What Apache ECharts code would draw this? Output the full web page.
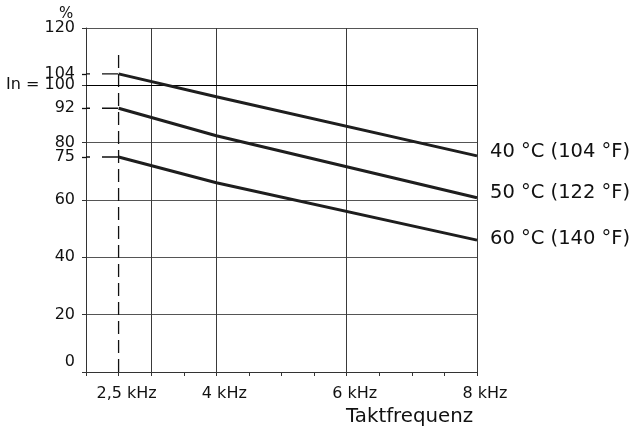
<!DOCTYPE html>
<html>
<head>
<meta charset="utf-8">
<script src="https://cdn.jsdelivr.net/npm/echarts@6/dist/echarts.min.js"></script>
<style>html,body{margin:0;padding:0;background:#fff}#c{width:637px;height:428px}</style>
</head>
<body>
<div id="c"></div>
<script>
// --- data ---
var freqKHz = [2.5, 4, 8];
var curve40 = [104, 96, 75.4];
var curve50 = [92, 82.4, 60.8];
var curve60 = [75, 66, 46];
var seriesNames = ['40 °C (104 °F)', '50 °C (122 °F)', '60 °C (140 °F)'];
var startValues = [104, 92, 75];
var xTickLabels = [2.5, 4, 6, 8];
var xGridValues = [3, 4, 6, 8];
var nominalValue = 100;
var xAxisTitle = 'Taktfrequenz';
var yAxisTitle = '%';

var FONT = 'DejaVu Sans';
var TXT = '#111';
var chart = echarts.init(document.getElementById('c'), null, {renderer: 'canvas'});

function pairs(xs, ys) { return xs.map(function (x, i) { return [x, ys[i]]; }); }

var curves = [curve40, curve50, curve60];
var labelOffsets = [[0, -4], [0, -5], [0, -1]];
var series = curves.map(function (c, i) {
  return {
    name: seriesNames[i], type: 'line', data: pairs(freqKHz, c),
    symbol: 'none', z: 5,
    lineStyle: {color: '#1e1e1e', width: 3},
    endLabel: {show: true, formatter: seriesNames[i], distance: 13, offset: labelOffsets[i],
      fontFamily: FONT, fontSize: 19.5, color: TXT},
    markLine: i === 0 ? {silent: true, symbol: 'none', label: {show: false},
      lineStyle: {color: '#000', width: 1, type: 'solid'},
      data: [{yAxis: nominalValue}]} : undefined
  };
});
// dashed guide lines from the y axis to the 2.5 kHz start point
startValues.forEach(function (v) {
  series.push({type: 'line', data: [[2, v], [freqKHz[0], v]], symbol: 'none', silent: true, z: 4,
    lineStyle: {color: '#111', width: 1.3, type: [4, 12, 16]}});
});
// vertical dashed line at 2.5 kHz
series.push({type: 'line', data: [[freqKHz[0], 0], [freqKHz[0], 111]], symbol: 'none', silent: true, z: 4,
  lineStyle: {color: '#111', width: 1.3, type: [13, 6]}});

chart.setOption({
  animation: false,
  backgroundColor: '#fff',
  title: [
    {text: xAxisTitle, left: 346, top: 407, padding: 0,
      textStyle: {fontFamily: FONT, fontSize: 19.8, fontWeight: 'normal', color: TXT}},
    {text: yAxisTitle, left: 59, top: 7, padding: 0,
      textStyle: {fontFamily: FONT, fontSize: 15, fontWeight: 'normal', color: TXT}}
  ],
  grid: {left: 86, right: 160, top: 28, bottom: 56},
  xAxis: [
    {type: 'value', min: 2, max: 8, interval: 0.5,
      axisLine: {show: true, lineStyle: {color: '#333', width: 1}},
      axisTick: {show: true, length: 4, lineStyle: {color: '#333'}},
      axisLabel: {customValues: xTickLabels, margin: 14, fontFamily: FONT, fontSize: 16, color: TXT,
        padding: [0, 0, 0, 16],
        formatter: function (v) { return String(v).replace('.', ',') + ' kHz'; }},
      splitLine: {show: false}},
    {type: 'value', min: 2, max: 8, position: 'bottom',
      axisLine: {show: false}, axisLabel: {show: false},
      axisTick: {show: false, customValues: xGridValues},
      splitLine: {show: true, lineStyle: {color: '#3a3a3a', width: 1}}}
  ],
  yAxis: [
    {type: 'value', min: 0, max: 120, interval: 20,
      axisLine: {show: true, lineStyle: {color: '#333'}},
      axisTick: {show: true, length: 4, lineStyle: {color: '#333'}},
      axisLabel: {margin: 11, fontFamily: FONT, fontSize: 16, color: TXT,
        formatter: function (v) {
          if (v === 0) return '{z|0}';
          if (v === nominalValue) return 'In = ' + v;
          return String(v);
        },
        rich: {z: {fontFamily: FONT, fontSize: 16, color: TXT, padding: [0, 0, 20, 0]}}},
      splitLine: {show: true, lineStyle: {color: '#555', width: 1}}},
    {type: 'value', min: 0, max: 120, position: 'left',
      axisLine: {show: false},
      axisTick: {show: true, length: 4, customValues: startValues, lineStyle: {color: '#111', width: 1.3}},
      axisLabel: {customValues: startValues, margin: 11, fontFamily: FONT, fontSize: 16, color: TXT},
      splitLine: {show: false}}
  ],
  series: series
});
</script>
</body>
</html>
